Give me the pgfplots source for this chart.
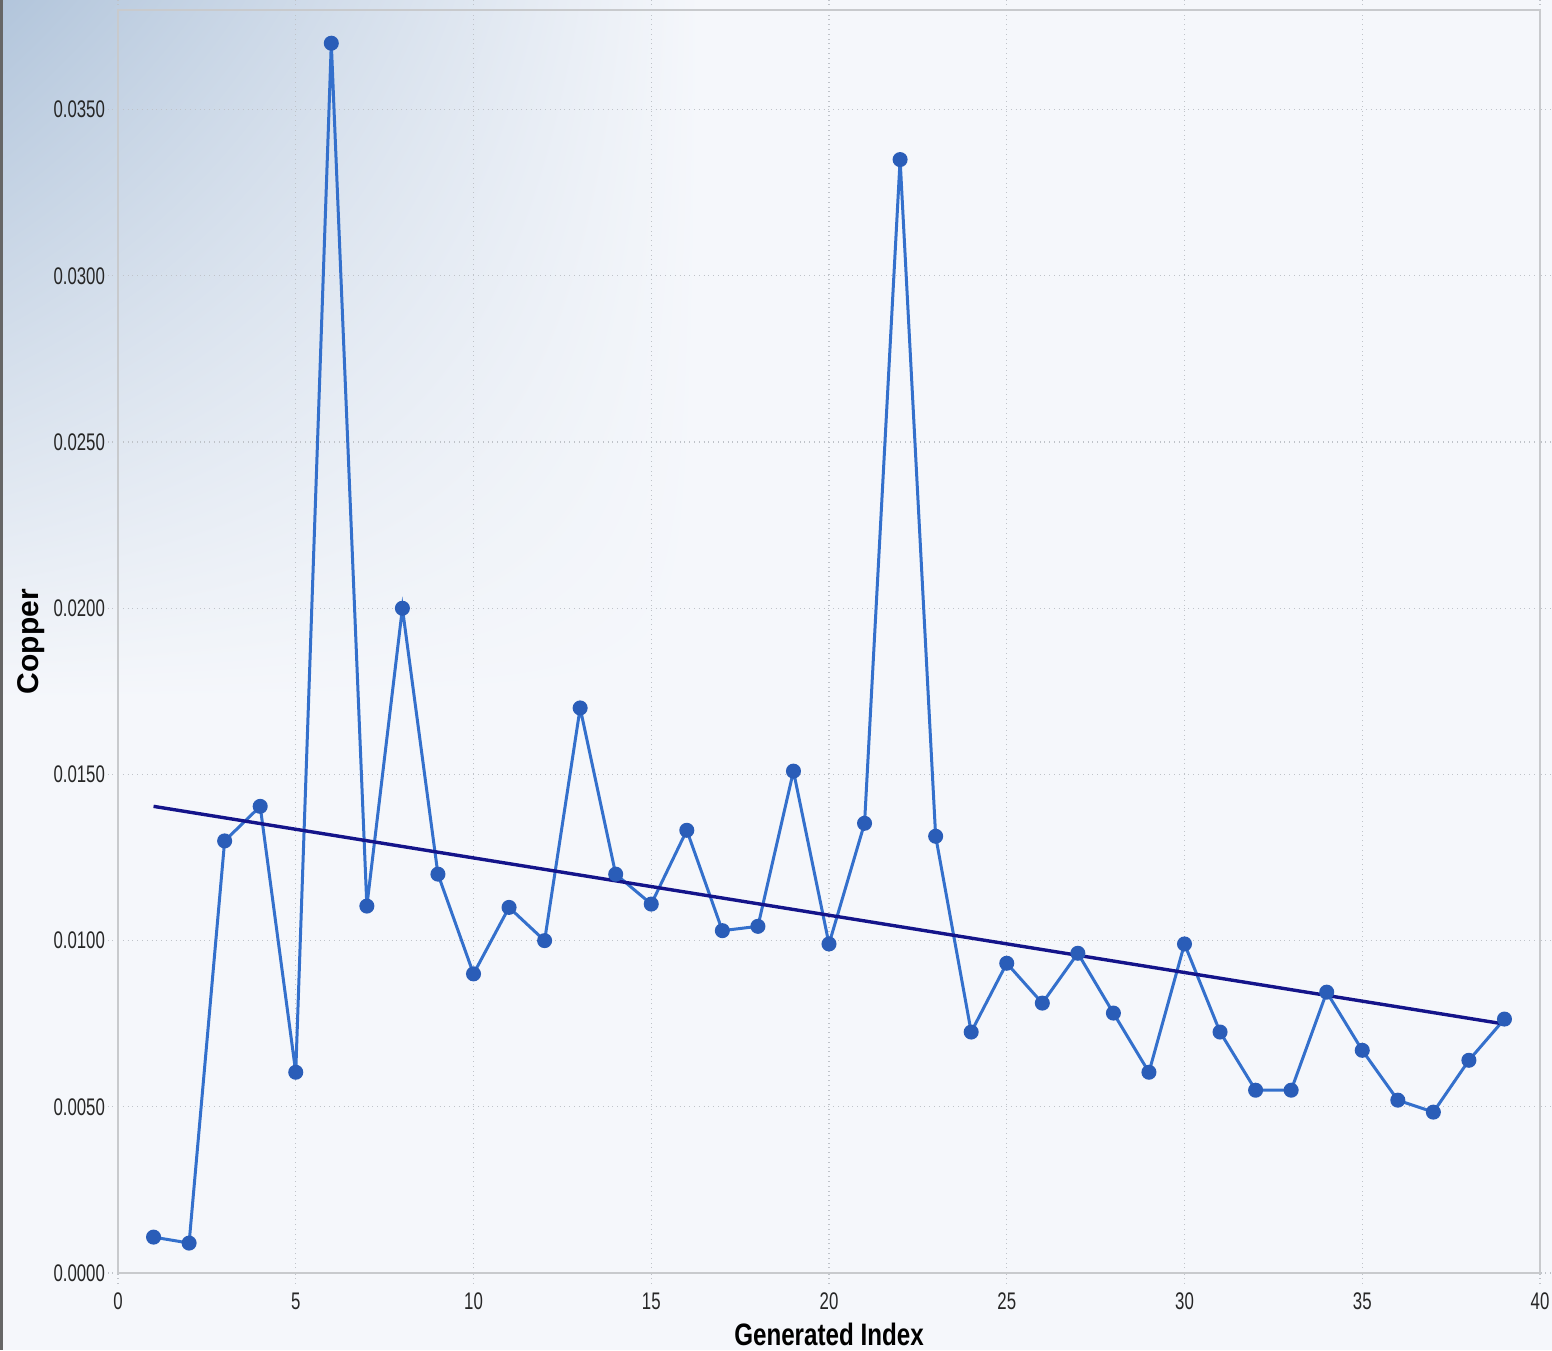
\documentclass[border=0pt]{standalone}
\usepackage{fontspec}
\setmainfont{Liberation Sans}
\newfontfamily\narrow{Liberation Sans}[FakeStretch=0.7]
\newfontfamily\narrowb{Liberation Sans}[FakeStretch=0.78]
\usepackage{pgfplots}
\pgfplotsset{compat=1.18}
\usetikzlibrary{shadings}
\definecolor{bgc}{HTML}{F5F7FB}
\definecolor{cornerc}{HTML}{B2C5DB}
\definecolor{linec}{HTML}{3470CC}
\definecolor{markc}{HTML}{2A5DB8}
\definecolor{trendc}{HTML}{14148A}
\definecolor{gridc}{HTML}{BFC3C9}
\definecolor{framec}{HTML}{C8CACD}
\begin{document}
\begin{tikzpicture}
\useasboundingbox (-59pt,-38.5pt) rectangle (717pt,636.5pt);
\fill[bgc] (-59pt,-38.5pt) rectangle (717pt,636.5pt);
\shade[upper left=cornerc, upper right=bgc, lower left=bgc, lower right=bgc] (-59pt,286.5pt) rectangle (291pt,636.5pt);
\fill[black!60] (-59pt,-38.5pt) rectangle (-57.5pt,636.5pt);
\begin{axis}[
  at={(0pt,0pt)}, anchor=south west,
  scale only axis, width=711pt, height=631.5pt,
  xmin=0, xmax=40, ymin=0, ymax=0.038,
  xtick={0,5,...,40},
  ytick={0,0.005,0.01,0.015,0.02,0.025,0.03,0.035},
  scaled y ticks=false,
  yticklabel style={xshift=2pt, /pgf/number format/.cd, fixed, fixed zerofill, precision=4},
  xticklabel style={yshift=-1.5pt},
  /pgf/number format/assume math mode=true,
  ticklabel style={font=\narrow\fontsize{12}{14}\selectfont, text=black!85},
  grid=major,
  major grid style={gridc, dotted, line width=0.6pt},
  tick style={gridc, dotted, line width=0.6pt},
  tick align=outside, major tick length=5pt,
  axis line style={framec, line width=1pt},
  xlabel={\narrowb\bfseries\fontsize{15.5}{17}\selectfont Generated Index},
  ylabel={\bfseries\fontsize{15}{17}\selectfont Copper},
  xlabel style={at={(axis description cs:0.5,0)}, anchor=north, yshift=-21.5pt},
  ylabel style={at={(axis description cs:0,0.5)}, anchor=south, yshift=33pt},
  ylabel shift=0pt,
  clip=false,
]
\addplot[color=linec, line width=1.5pt, mark=*, mark size=3pt, mark options={fill=markc, draw=markc}] coordinates {
(1,0.00108) (2,0.0009) (3,0.0130) (4,0.01404) (5,0.00604) (6,0.0370) (7,0.01104)
(8,0.0200) (9,0.0120) (10,0.0090) (11,0.0110) (12,0.0100) (13,0.0170) (14,0.0120)
(15,0.0111) (16,0.01332) (17,0.0103) (18,0.01043) (19,0.0151) (20,0.0099) (21,0.01353)
(22,0.0335) (23,0.01314) (24,0.00725) (25,0.00932) (26,0.00812) (27,0.00962) (28,0.00782)
(29,0.00604) (30,0.0099) (31,0.00725) (32,0.0055) (33,0.0055) (34,0.00845) (35,0.0067)
(36,0.0052) (37,0.00484) (38,0.0064) (39,0.00764)
};
\addplot[color=trendc, line width=1.7pt, no marks] coordinates {(1,0.01404) (39,0.00749)};
\end{axis}
\end{tikzpicture}
\end{document}
